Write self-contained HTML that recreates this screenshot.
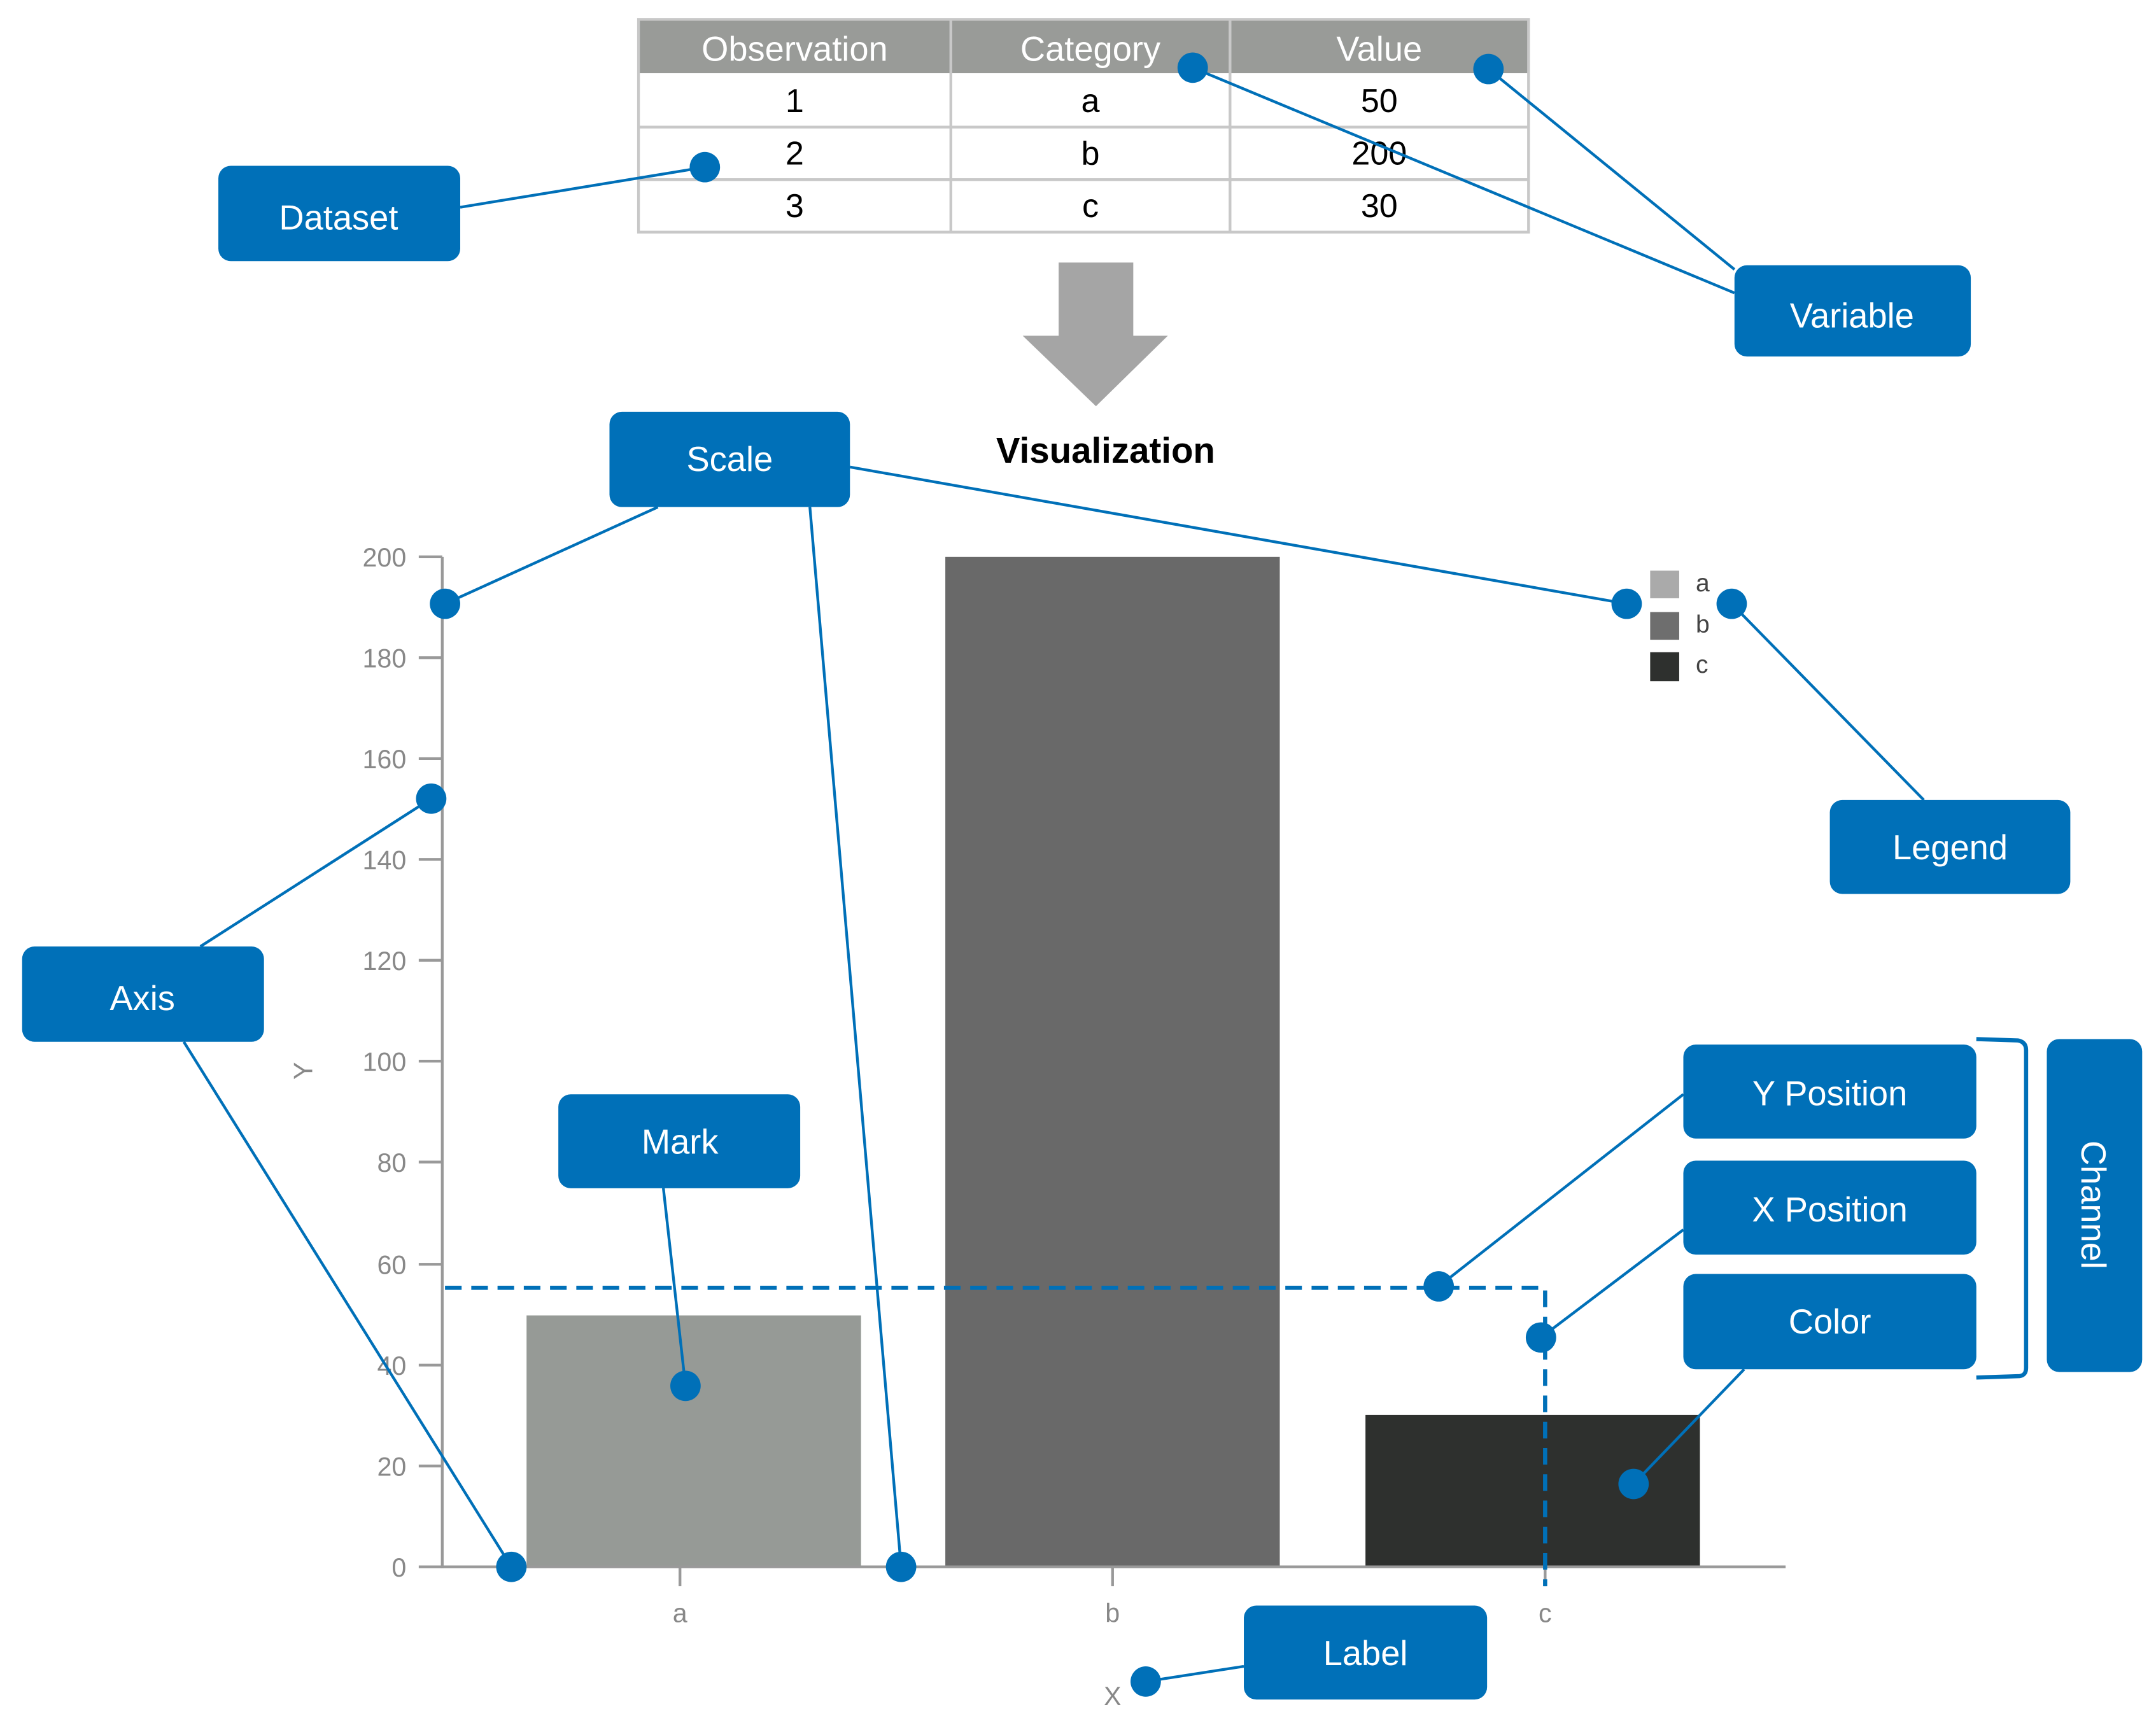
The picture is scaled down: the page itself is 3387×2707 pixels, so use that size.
<!DOCTYPE html>
<html><head><meta charset="utf-8"><style>html,body{margin:0;padding:0;background:#fff}svg{display:block}</style></head>
<body>
<svg width="3387" height="2707" viewBox="0 0 1560 1247" preserveAspectRatio="none" xmlns="http://www.w3.org/2000/svg" font-family="Liberation Sans, sans-serif">
<!-- table -->
<rect x="462" y="14" width="644" height="39" fill="#999b98"/>
<rect x="462" y="14" width="644" height="154" fill="none" stroke="#c8c8c8" stroke-width="2"/>
<g stroke="#c8c8c8" stroke-width="2">
<line x1="688" y1="14" x2="688" y2="168"/><line x1="890" y1="14" x2="890" y2="168"/>
<line x1="462" y1="92" x2="1106" y2="92"/><line x1="462" y1="130" x2="1106" y2="130"/>
</g>
<g font-size="25" fill="#fff" text-anchor="middle">
<text x="575" y="44">Observation</text><text x="789" y="44">Category</text><text x="998" y="44">Value</text></g>
<g font-size="24" fill="#000" text-anchor="middle">
<text x="575" y="81">1</text><text x="789" y="81">a</text><text x="998" y="81">50</text>
<text x="575" y="119">2</text><text x="789" y="119">b</text><text x="998" y="119">200</text>
<text x="575" y="157">3</text><text x="789" y="157">c</text><text x="998" y="157">30</text></g>
<!-- arrow -->
<rect x="766" y="190" width="54" height="54" fill="#a5a5a5"/>
<polygon points="740,243 845,243 793,294" fill="#a5a5a5"/>
<text x="800" y="335" font-size="26" font-weight="bold" text-anchor="middle">Visualization</text>
<!-- chart -->
<rect x="381" y="952" width="242" height="182" fill="#969a96"/>
<rect x="684" y="403" width="242" height="731" fill="#696969"/>
<rect x="988" y="1024" width="242" height="110" fill="#2e302e"/>
<g stroke="#999" stroke-width="2">
<line x1="320" y1="403" x2="320" y2="1135"/><line x1="319" y1="1134" x2="1292" y2="1134"/>
<line x1="303" y1="403" x2="320" y2="403"/><line x1="303" y1="476" x2="320" y2="476"/><line x1="303" y1="549" x2="320" y2="549"/><line x1="303" y1="622" x2="320" y2="622"/><line x1="303" y1="695" x2="320" y2="695"/><line x1="303" y1="768" x2="320" y2="768"/><line x1="303" y1="841" x2="320" y2="841"/><line x1="303" y1="915" x2="320" y2="915"/><line x1="303" y1="988" x2="320" y2="988"/><line x1="303" y1="1061" x2="320" y2="1061"/><line x1="303" y1="1134" x2="320" y2="1134"/>
<line x1="492" y1="1134" x2="492" y2="1148"/><line x1="805" y1="1134" x2="805" y2="1148"/><line x1="1118" y1="1134" x2="1118" y2="1148"/>
</g>
<g font-size="19" fill="#888" text-anchor="end">
<text x="294" y="410">200</text><text x="294" y="483">180</text><text x="294" y="556">160</text><text x="294" y="629">140</text><text x="294" y="702">120</text><text x="294" y="775">100</text><text x="294" y="848">80</text><text x="294" y="922">60</text><text x="294" y="995">40</text><text x="294" y="1068">20</text><text x="294" y="1141">0</text></g>
<g font-size="19" fill="#888" text-anchor="middle">
<text x="492" y="1174">a</text><text x="805" y="1174">b</text><text x="1118" y="1174">c</text>
<text x="805" y="1234">X</text>
<text transform="translate(226,775) rotate(-90)">Y</text></g>
<!-- legend -->
<rect x="1194" y="413" width="21" height="20" fill="#aaa"/>
<rect x="1194" y="443" width="21" height="20" fill="#6e6e6e"/>
<rect x="1194" y="472" width="21" height="21" fill="#2e302e"/>
<g font-size="18" fill="#444"><text x="1227" y="428">a</text><text x="1227" y="458">b</text><text x="1227" y="487">c</text></g>
<!-- dashed -->
<polyline points="322,932 1118,932 1118,1148" fill="none" stroke="#0070b8" stroke-width="3" stroke-dasharray="12,7"/>
<!-- bracket -->
<path d="M1430,752 L1460,753 Q1466,754 1466,760 L1466,990 Q1466,996 1460,996 L1430,997" fill="none" stroke="#0070b8" stroke-width="3"/>
<!-- connectors -->
<g stroke="#0070b8" stroke-width="2">
<line x1="333" y1="150" x2="510" y2="121"/>
<line x1="1255" y1="212" x2="863" y2="49"/><line x1="1255" y1="195" x2="1077" y2="50"/>
<line x1="476" y1="367" x2="322" y2="437"/><line x1="586" y1="367" x2="652" y2="1134"/><line x1="615" y1="338" x2="1177" y2="437"/>
<line x1="1392" y1="579" x2="1253" y2="437"/>
<line x1="145" y1="685" x2="312" y2="578"/><line x1="133" y1="754" x2="370" y2="1134"/>
<line x1="480" y1="860" x2="496" y2="1003"/>
<line x1="1218" y1="792" x2="1041" y2="931"/><line x1="1218" y1="890" x2="1115" y2="968"/><line x1="1262" y1="991" x2="1182" y2="1074"/>
<line x1="900" y1="1206" x2="829" y2="1217"/>
</g>
<g fill="#0070b8">
<circle cx="510" cy="121" r="11"/><circle cx="863" cy="49" r="11"/><circle cx="1077" cy="50" r="11"/>
<circle cx="322" cy="437" r="11"/><circle cx="1177" cy="437" r="11"/><circle cx="1253" cy="437" r="11"/>
<circle cx="312" cy="578" r="11"/><circle cx="370" cy="1134" r="11"/><circle cx="652" cy="1134" r="11"/>
<circle cx="496" cy="1003" r="11"/><circle cx="1041" cy="931" r="11"/><circle cx="1115" cy="968" r="11"/>
<circle cx="1182" cy="1074" r="11"/><circle cx="829" cy="1217" r="11"/>
<!-- boxes -->
<rect x="158" y="120" width="175" height="69" rx="9"/>
<rect x="1255" y="192" width="171" height="66" rx="9"/>
<rect x="441" y="298" width="174" height="69" rx="9"/>
<rect x="1324" y="579" width="174" height="68" rx="9"/>
<rect x="16" y="685" width="175" height="69" rx="9"/>
<rect x="404" y="792" width="175" height="68" rx="9"/>
<rect x="1218" y="756" width="212" height="68" rx="9"/>
<rect x="1218" y="840" width="212" height="68" rx="9"/>
<rect x="1218" y="922" width="212" height="69" rx="9"/>
<rect x="1481" y="752" width="69" height="241" rx="9"/>
<rect x="900" y="1162" width="176" height="68" rx="9"/>
</g>
<g font-size="25" fill="#fff" text-anchor="middle">
<text x="245" y="166">Dataset</text>
<text x="1340" y="237">Variable</text>
<text x="528" y="341">Scale</text>
<text x="1411" y="622">Legend</text>
<text x="103" y="731">Axis</text>
<text x="492" y="835">Mark</text>
<text x="1324" y="800">Y Position</text>
<text x="1324" y="884">X Position</text>
<text x="1324" y="965">Color</text>
<text x="988" y="1205">Label</text>
<text transform="translate(1506,872) rotate(90)">Channel</text>
</g>
</svg>
</body></html>
